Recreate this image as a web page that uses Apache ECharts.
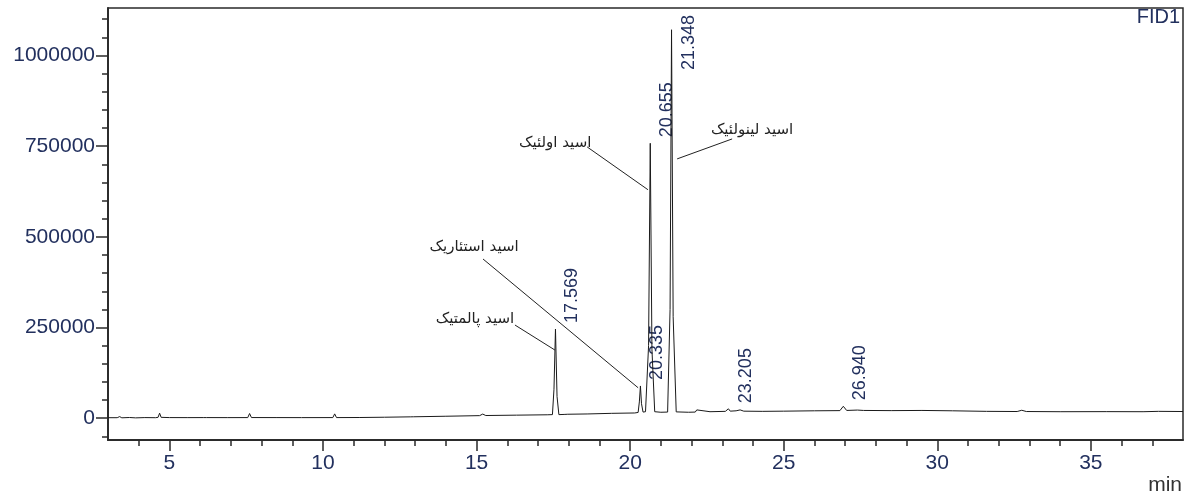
<!DOCTYPE html>
<html>
<head>
<meta charset="utf-8">
<script src="https://cdn.jsdelivr.net/npm/echarts@6/dist/echarts.min.js"></script>
<style>
  html, body { margin: 0; padding: 0; background: #fff; }
  #chart { width: 1188px; height: 497px; }
</style>
</head>
<body>
<div id="chart"></div>
<script>
// retention time (min) and detector signal of the FID1 trace
const time = [3.0, 3.3, 3.38, 3.45, 3.7, 3.9, 4.2, 4.55, 4.63, 4.68, 4.73, 5.0, 5.6, 6.1, 6.15, 6.2, 6.9, 7.55, 7.61, 7.67,
  8.5, 9.3, 10.32, 10.38, 10.44, 11.2, 12.0, 12.84, 12.89, 12.94, 14.0, 15.1, 15.2, 15.3, 16.3, 17.3, 17.47, 17.52, 17.569, 17.62,
  17.68, 17.85, 17.9, 17.97, 18.6, 19.4, 20.15, 20.26, 20.3, 20.335, 20.37, 20.42, 20.5, 20.6, 20.655, 20.71, 20.8, 21.0, 21.22, 21.3,
  21.348, 21.4, 21.5, 21.9, 22.12, 22.17, 22.22, 22.6, 23.1, 23.2, 23.26, 23.45, 23.58, 23.7, 24.3, 25.0, 26.0, 26.83, 26.94, 27.05,
  27.4, 27.6, 28.5, 29.5, 30.5, 31.6, 32.6, 32.75, 32.9, 34.0, 35.5, 36.7, 37.2, 38.0];
const signal = [1500, 1500, 4500, 1200, 2000, 1000, 1800, 1500, 2500, 14000, 2500, 1800, 1700, 1800, 7000, 1800, 1700, 1800, 13000, 1900,
  1800, 1700, 1800, 12000, 1800, 2000, 2800, 3800, 9000, 4000, 5500, 7200, 11500, 7500, 8500, 9500, 10000, 80000, 246000, 60000,
  10000, 10500, 14000, 11000, 11800, 13500, 14500, 16000, 45000, 89000, 40000, 17000, 18000, 200000, 758000, 190000, 18000, 16500, 17000, 300000,
  1071000, 280000, 17500, 16500, 17000, 23000, 17500, 18000, 19000, 26000, 19500, 20500, 23000, 19500, 19000, 19500, 20500, 21000, 33000, 21500,
  22500, 21500, 21000, 21500, 20500, 19000, 18500, 22000, 18500, 18000, 18200, 18000, 19000, 18500];

// integrated peaks: retention time and apex height
const peakTimes = [17.569, 20.335, 20.655, 21.348, 23.205, 26.940];
const peakHeights = [246000, 89000, 758000, 1071000, 25000, 33000];

// identified compounds: label anchor, leader line start and end (min, signal)
const compounds = ['اسید پالمتیک', 'اسید استئاریک', 'اسید اولئیک', 'اسید لینولئیک'];
const compoundTextAt = [[14.95, 274000], [14.92, 472000], [17.56, 759000], [23.97, 795000]];
const leaderFrom = [[16.25, 257000], [15.21, 439000], [18.60, 748000], [23.32, 770000]];
const leaderTo = [[17.55, 188000], [20.26, 84000], [20.58, 630000], [21.53, 715000]];

// axis ticks
const xMajor = [5, 10, 15, 20, 25, 30, 35];
const xMinor = [4, 6, 7, 8, 9, 11, 12, 13, 14, 16, 17, 18, 19, 21, 22, 23, 24, 26, 27, 28, 29, 31, 32, 33, 34, 36, 37];
const yMajor = [0, 250000, 500000, 750000, 1000000];
const yMinor = [-50000, 50000, 100000, 150000, 200000, 300000, 350000, 400000, 450000, 550000, 600000, 650000, 700000,
  800000, 850000, 900000, 950000, 1050000, 1100000];

const chart = echarts.init(document.getElementById('chart'));
const axisColor = '#2a2a2a';
const labelColor = '#22305e';
const font = '"Liberation Sans", Arial, sans-serif';

const xBase = { type: 'value', min: 3, max: 38, position: 'bottom', splitLine: { show: false },
  axisLine: { onZero: false, lineStyle: { color: axisColor, width: 1.5 } } };
const yBase = { type: 'value', min: -60000, max: 1131000, position: 'left', splitLine: { show: false },
  axisLine: { onZero: false, lineStyle: { color: axisColor, width: 1.5 } } };

chart.setOption({
  animation: false,
  grid: { left: 108, right: 5, top: 8, bottom: 57, show: true, borderColor: axisColor, borderWidth: 1.5, backgroundColor: '#fff' },
  xAxis: [
    { ...xBase, axisTick: { customValues: xMajor, length: 11, lineStyle: { color: axisColor, width: 1.5 } },
      axisLabel: { customValues: xMajor, margin: 13, color: labelColor, fontSize: 21, fontFamily: font } },
    { ...xBase, axisTick: { customValues: xMinor, length: 6, lineStyle: { color: axisColor, width: 1.5 } },
      axisLabel: { show: false } }
  ],
  yAxis: [
    { ...yBase, axisTick: { customValues: yMajor, length: 12, lineStyle: { color: axisColor, width: 1.5 } },
      axisLabel: { customValues: yMajor, margin: 13, color: labelColor, fontSize: 21, fontFamily: font,
        formatter: v => String(v) } },
    { ...yBase, axisTick: { customValues: yMinor, length: 6, lineStyle: { color: axisColor, width: 1.5 } },
      axisLabel: { show: false } }
  ],
  graphic: [
    { type: 'text', right: 6, top: 475, style: { text: 'min', font: '21px ' + font, fill: '#333' } },
    { type: 'text', right: 8, top: 7, style: { text: 'FID1', font: '20px ' + font, fill: labelColor } }
  ],
  series: [
    {
      type: 'line', name: 'FID1', showSymbol: false, symbol: 'none',
      data: time.map((t, i) => [t, signal[i]]),
      lineStyle: { color: '#1a1a1a', width: 1 }
    },
    {
      type: 'custom', name: 'peaks', clip: false,
      data: peakTimes.map((t, i) => [t, peakHeights[i]]),
      renderItem(params, api) {
        const t = api.value(0);
        const p = api.coord([t, api.value(1)]);
        const top = params.coordSys.y;
        const y = Math.max(p[1] - 6, top + 62);
        return {
          type: 'text', x: p[0] + 17, y, rotation: Math.PI / 2,
          style: { text: t.toFixed(3), font: '18px ' + font, fill: labelColor, align: 'left', verticalAlign: 'middle' }
        };
      }
    },
    {
      type: 'custom', name: 'compounds', clip: false,
      data: compoundTextAt.map(c => c.slice()),
      renderItem(params, api) {
        const i = params.dataIndex;
        const a = api.coord(leaderFrom[i]);
        const b = api.coord(leaderTo[i]);
        const q = api.coord(compoundTextAt[i]);
        return {
          type: 'group',
          children: [
            { type: 'line', shape: { x1: a[0], y1: a[1], x2: b[0], y2: b[1] }, style: { stroke: '#222', lineWidth: 1 } },
            { type: 'text', x: q[0], y: q[1],
              style: { text: compounds[i], font: '15px "DejaVu Sans", sans-serif', fill: '#222', align: 'center', verticalAlign: 'middle' } }
          ]
        };
      }
    }
  ]
});
</script>
</body>
</html>
